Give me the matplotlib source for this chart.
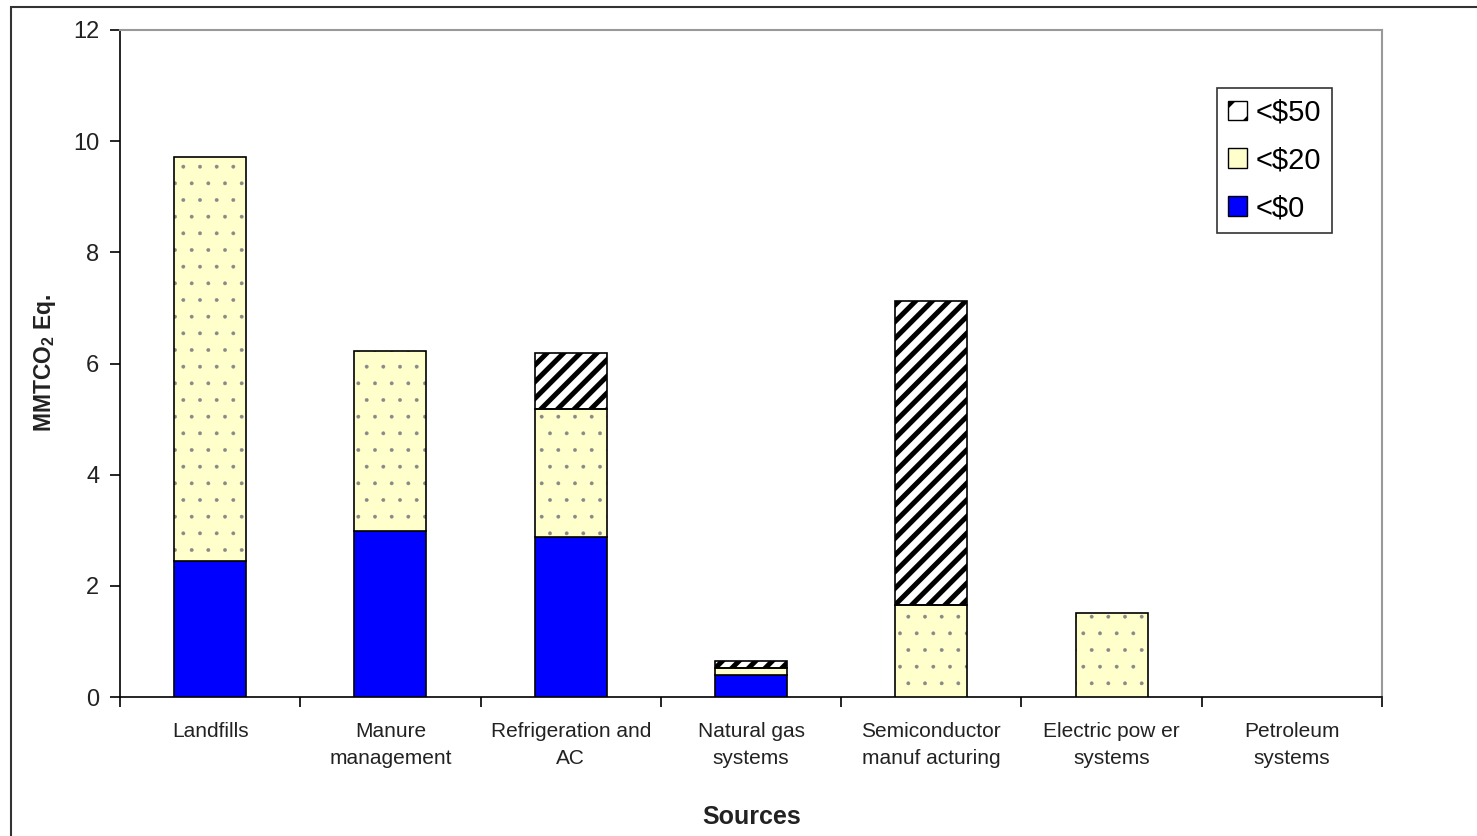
import matplotlib
matplotlib.use("Agg")
import matplotlib.pyplot as plt
from matplotlib.patches import Rectangle, Patch
import numpy as np

categories = ["Landfills", "Manure\nmanagement", "Refrigeration and\nAC", "Natural gas\nsystems",
              "Semiconductor\nmanuf acturing", "Electric pow er\nsystems", "Petroleum\nsystems"]
lt0 = [2.45, 2.99, 2.88, 0.40, 0.0, 0.0, 0.0]
lt20 = [7.26, 3.23, 2.30, 0.12, 1.65, 1.51, 0.0]
lt50 = [0.0, 0.0, 1.01, 0.13, 5.47, 0.0, 0.0]
series_labels = ["<\\$50", "<\\$20", "<\\$0"]
yticks = [0, 2, 4, 6, 8, 10, 12]

plt.rcParams['font.family'] = ['Liberation Sans', 'DejaVu Sans']
plt.rcParams['mathtext.fontset'] = 'custom'
plt.rcParams['mathtext.rm'] = 'Liberation Sans'
plt.rcParams['mathtext.bf'] = 'Liberation Sans:bold'
plt.rcParams['hatch.linewidth'] = 3.6

W, H = 1477, 836
fig = plt.figure(figsize=(W / 100, H / 100), dpi=100)
ax = fig.add_axes([120 / W, 1 - 697 / H, 1262 / W, 667 / H])

x = np.arange(len(categories))
bw = 0.40
blue = '#0000FF'
yellow = '#FFFFCC'

lt0 = np.array(lt0); lt20 = np.array(lt20); lt50 = np.array(lt50)


def hide_zero(bars, vals):
    for p, v in zip(bars, vals):
        if v <= 0:
            p.set_visible(False)


# <$0
hide_zero(ax.bar(x, lt0, bw, color=blue, edgecolor='black', linewidth=1.2, zorder=3), lt0)
# <$20 : fill + dots + outline
hide_zero(ax.bar(x, lt20, bw, bottom=lt0, color=yellow, edgecolor='none', linewidth=0, zorder=3), lt20)
d20 = ax.bar(x, lt20, bw, bottom=lt0, color='none', edgecolor='#888888', linewidth=0,
             hatch='.', zorder=3.1)
hide_zero(d20, lt20)
for p in d20:
    try:
        p.set_hatch_linewidth(0.3)
    except Exception:
        pass
hide_zero(ax.bar(x, lt20, bw, bottom=lt0, color='none', edgecolor='black', linewidth=1.2, zorder=3.2), lt20)
# <$50
hide_zero(ax.bar(x, lt50, bw, bottom=lt0 + lt20, color='white', edgecolor='black', linewidth=1.2,
                 hatch='//', zorder=3), lt50)

ax.set_xlim(-0.5, len(categories) - 0.5)
ax.set_ylim(0, 12)
ax.set_yticks(yticks)
ax.set_yticklabels([str(v) for v in yticks], fontsize=17, color='#222222')
ax.set_xticks(x)
ax.set_xticklabels(categories, fontsize=15, color='#222222', linespacing=1.55)
ax.set_xticks(np.arange(-0.5, len(categories)), minor=True)
ax.tick_params(axis='x', which='major', length=0, pad=18)
ax.tick_params(axis='x', which='minor', length=7, width=1.2, direction='out')
ax.tick_params(axis='y', length=7, width=1.2, direction='out', pad=8)

for s in ['left', 'bottom']:
    ax.spines[s].set_color('black')
    ax.spines[s].set_linewidth(1.2)
for s in ['top', 'right']:
    ax.spines[s].set_color('#999999')
    ax.spines[s].set_linewidth(1.5)

h50 = Patch(facecolor='white', edgecolor='black', hatch='/', label=series_labels[0])
try:
    h50.set_hatch_linewidth(2.5)
except Exception:
    pass
handles = [h50,
           Patch(facecolor=yellow, edgecolor='black', label=series_labels[1]),
           Patch(facecolor=blue, edgecolor='black', label=series_labels[2])]
leg = ax.legend(handles=handles, loc='upper right', bbox_to_anchor=(0.960, 0.913),
                fontsize=21, frameon=True, fancybox=False, edgecolor='black',
                handlelength=0.65, handleheight=0.65, handletextpad=0.3,
                labelspacing=0.68, borderpad=0.36, borderaxespad=0)
leg.get_frame().set_linewidth(1.2)

fig.text(752 / W, 1 - 817 / H, "Sources", fontsize=18, fontweight='bold',
         ha='center', va='center', color='#222222')
fig.text(45 / W, 1 - 363 / H, r"MMTCO$_\mathbf{2}$ Eq.", fontsize=16.5, fontweight='bold',
         rotation=90, ha='center', va='center', color='#222222')

fig.add_artist(Rectangle((11 / W, -0.1), 1.2, 1 - 7 / H + 0.1, transform=fig.transFigure,
                         fill=False, edgecolor='#333333', linewidth=1.5))

fig.savefig("out.png", dpi=100)
